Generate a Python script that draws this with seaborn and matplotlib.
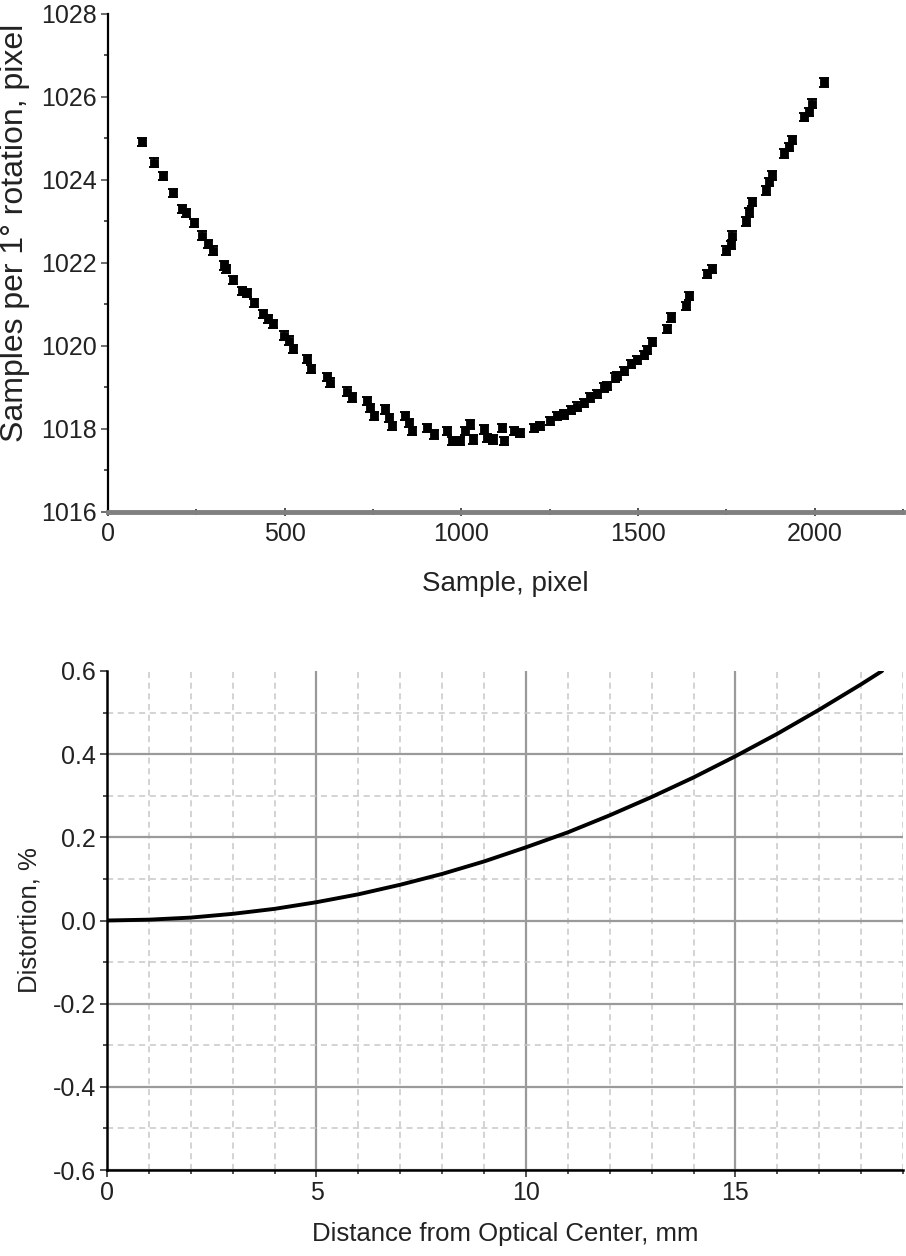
import matplotlib
matplotlib.use("Agg")
import matplotlib.pyplot as plt
from matplotlib.ticker import MultipleLocator, FormatStrFormatter
import seaborn as sns
import pandas as pd

# ---------------- data: top panel ----------------
sample_px = [95, 131, 155, 185, 210, 222, 242, 265, 284, 298, 327, 335, 355, 379, 394,
             412, 440, 453, 466, 497, 511, 523, 563, 574, 619, 629, 676, 690, 733, 742,
             752, 785, 794, 803, 841, 851, 860, 903, 922, 959, 974, 995, 1011, 1025, 1034,
             1063, 1072, 1091, 1115, 1120, 1148, 1167, 1205, 1224, 1252, 1271, 1290, 1309,
             1328, 1347, 1365, 1384, 1403, 1413, 1436, 1441, 1460, 1479, 1497, 1516, 1526,
             1540, 1583, 1592, 1635, 1644, 1696, 1710, 1748, 1762, 1767, 1805, 1813, 1823,
             1861, 1872, 1880, 1913, 1926, 1937, 1970, 1983, 1993, 2026]
samples_per_deg = [1024.92, 1024.42, 1024.09, 1023.68, 1023.30, 1023.20, 1022.97, 1022.66,
                   1022.46, 1022.30, 1021.94, 1021.85, 1021.59, 1021.33, 1021.27, 1021.03,
                   1020.77, 1020.65, 1020.53, 1020.25, 1020.13, 1019.93, 1019.68, 1019.44,
                   1019.26, 1019.12, 1018.90, 1018.76, 1018.68, 1018.51, 1018.31, 1018.47,
                   1018.27, 1018.07, 1018.31, 1018.15, 1017.95, 1018.03, 1017.87, 1017.95,
                   1017.71, 1017.71, 1017.95, 1018.11, 1017.75, 1017.99, 1017.79, 1017.75,
                   1018.03, 1017.71, 1017.95, 1017.91, 1018.03, 1018.07, 1018.19, 1018.31,
                   1018.35, 1018.45, 1018.54, 1018.62, 1018.76, 1018.84, 1019.00, 1019.04,
                   1019.24, 1019.28, 1019.40, 1019.56, 1019.66, 1019.78, 1019.90, 1020.10,
                   1020.41, 1020.69, 1020.97, 1021.21, 1021.74, 1021.86, 1022.30, 1022.44,
                   1022.66, 1023.00, 1023.22, 1023.47, 1023.75, 1023.95, 1024.11, 1024.64,
                   1024.80, 1024.96, 1025.52, 1025.64, 1025.84, 1026.35]
err_half = 0.1

top_xticks = [0, 500, 1000, 1500, 2000]
top_yticks = [1016, 1018, 1020, 1022, 1024, 1026, 1028]

# ---------------- data: bottom panel ----------------
distance_mm = [0, 1, 2, 3, 4, 5, 6, 7, 8, 9, 10, 11, 12, 13, 14, 15, 16, 17, 18, 18.5]
distortion_pct = [0.0, 0.002, 0.007, 0.016, 0.028, 0.044, 0.063, 0.086, 0.112, 0.142,
                  0.176, 0.212, 0.253, 0.297, 0.344, 0.395, 0.449, 0.507, 0.568, 0.600]
bot_xticks = [0, 5, 10, 15]
bot_yticks = [-0.6, -0.4, -0.2, 0.0, 0.2, 0.4, 0.6]

# ---------------- style ----------------
sns.set_theme(style="ticks")
FAM = "Liberation Sans"
FS = 18
plt.rcParams["font.family"] = [FAM, "DejaVu Sans"]
TXT = "#222222"

fig = plt.figure(figsize=(9.06, 12.56), dpi=100)
W, H = 906, 1256
ax1 = fig.add_axes([108 / W, 1 - 512 / H, (903 - 108) / W, (512 - 14) / H])
ax2 = fig.add_axes([107 / W, 1 - 1170 / H, (903 - 107) / W, (1170 - 671) / H])

# ---- top panel ----
df1 = pd.DataFrame({"x": sample_px, "y": samples_per_deg})
ax1.errorbar(df1["x"], df1["y"], yerr=err_half, fmt="none", ecolor="black",
             elinewidth=1.4, capsize=3.5, capthick=1.4, zorder=2)
sns.scatterplot(data=df1, x="x", y="y", marker="s", s=38, color="black",
                edgecolor="black", linewidth=0.6, ax=ax1, zorder=3)
ax1.set_xlim(0, 2250)
ax1.set_ylim(1016, 1028)
ax1.set_xticks(top_xticks)
ax1.set_yticks(top_yticks)
ax1.xaxis.set_minor_locator(MultipleLocator(250))
ax1.yaxis.set_minor_locator(MultipleLocator(1))
for s in ("top", "right"):
    ax1.spines[s].set_visible(False)
ax1.spines["left"].set_color("black")
ax1.spines["left"].set_linewidth(1.6)
ax1.spines["bottom"].set_color("#808080")
ax1.spines["bottom"].set_linewidth(3.5)
ax1.tick_params(axis="y", which="major", direction="out", length=5, width=1.2,
                color="#555555", labelsize=FS, pad=3)
ax1.tick_params(axis="y", which="minor", direction="out", length=3, width=1.2, color="#333333")
ax1.tick_params(axis="x", which="major", direction="inout", length=6, width=1.2,
                color="#333333", labelsize=FS, pad=4)
ax1.tick_params(axis="x", which="minor", direction="inout", length=5, width=1.2, color="#333333")
ax1.set_xlabel("Sample, pixel", fontsize=20, labelpad=18, color=TXT)
ax1.set_ylabel("Samples per 1\u00b0 rotation, pixel", fontsize=23, color=TXT)
ax1.yaxis.set_label_coords(-0.098, 0.56)
for lab in ax1.get_xticklabels() + ax1.get_yticklabels():
    lab.set_color(TXT)

# ---- bottom panel ----
df2 = pd.DataFrame({"r": distance_mm, "d": distortion_pct})
ax2.set_xlim(0, 19)
ax2.set_ylim(-0.6, 0.6)
ax2.set_xticks(bot_xticks)
ax2.set_yticks(bot_yticks)
ax2.xaxis.set_minor_locator(MultipleLocator(1))
ax2.yaxis.set_minor_locator(MultipleLocator(0.1))
ax2.grid(which="major", color="#9a9a9a", linewidth=1.6, linestyle="-", zorder=0)
ax2.grid(which="minor", color="#c8c8c8", linewidth=1.1, linestyle=(0, (4, 3)), zorder=0)
ax2.set_axisbelow(True)
sns.lineplot(data=df2, x="r", y="d", color="black", linewidth=2.8, ax=ax2, zorder=3)
for s in ("top", "right"):
    ax2.spines[s].set_visible(False)
for s in ("left", "bottom"):
    ax2.spines[s].set_color("black")
    ax2.spines[s].set_linewidth(1.8)
ax2.yaxis.set_major_formatter(FormatStrFormatter("%.1f"))
ax2.tick_params(axis="both", which="major", direction="out", length=5, width=1.2,
                color="#333333", labelsize=FS, pad=3)
ax2.tick_params(axis="both", which="minor", direction="out", length=3, width=1.2, color="#333333")
ax2.set_xlabel("Distance from Optical Center, mm", fontsize=18.5, labelpad=12, color=TXT)
ax2.set_ylabel("Distortion, %", fontsize=18.5, labelpad=8, color=TXT)
for lab in ax2.get_xticklabels() + ax2.get_yticklabels():
    lab.set_color(TXT)

fig.canvas.draw()
for t in ax2.yaxis.get_major_ticks():
    if abs(t.get_loc() - 0.6) < 1e-9:
        t.gridline.set_visible(False)
for t in ax2.xaxis.get_major_ticks():
    if abs(t.get_loc() - 0) < 1e-9:
        t.gridline.set_visible(False)

fig.savefig("out.png", dpi=100)
